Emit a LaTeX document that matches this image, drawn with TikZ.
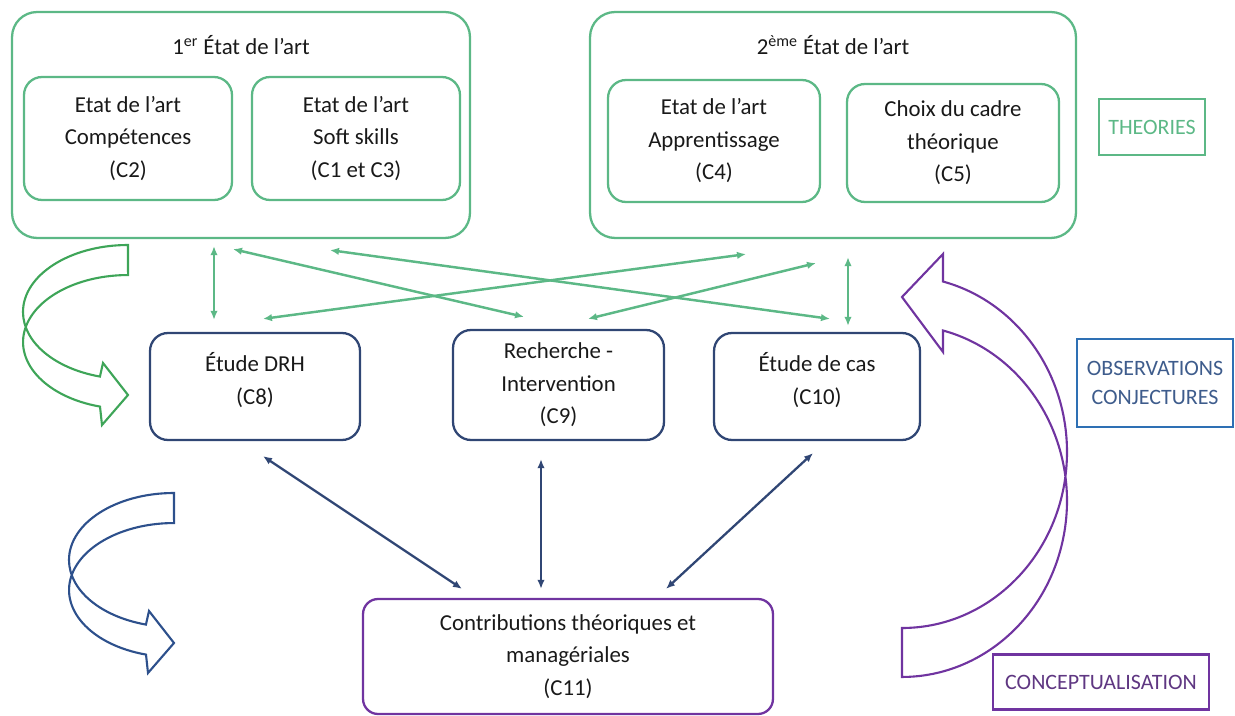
\documentclass[tikz,border=0pt]{standalone}
\usepackage{fontspec}
\setmainfont{Carlito}
\usepackage{tikz}
\usetikzlibrary{arrows.meta, calc}

\definecolor{thgreen}{RGB}{92,184,134}
\definecolor{bendgreen}{RGB}{62,165,88}
\definecolor{navy}{RGB}{48,70,116}
\definecolor{bendblue}{RGB}{45,80,140}
\definecolor{obsblue}{RGB}{46,112,180}
\definecolor{obstext}{RGB}{62,92,140}
\definecolor{purp}{RGB}{112,52,160}
\definecolor{purptext}{RGB}{95,55,130}

% hollow bent arrow, tail top corner at the origin
\tikzset{
  bendarrow/.pic={
    \draw[line width=1.2pt, fill=white] (0,0)
      arc[start angle=-90, end angle=-254.5, x radius=105, y radius=67]
      -- (-25,118) -- (0,150) -- (-26,180) -- (-28,161.6)
      arc[start angle=-254.5, end angle=-90, x radius=105, y radius=67]
      -- cycle;
  }
}

\begin{document}
\begin{tikzpicture}[
    x=0.02cm, y=-0.02cm,
    every node/.style={font=\fontsize{13}{18.5}\selectfont, text=black!90},
    outerbox/.style={rectangle, rounded corners=0.5cm, draw=thgreen, line width=1.3pt, inner sep=0pt},
    innerbox/.style={rectangle, rounded corners=0.36cm, draw=thgreen, line width=1.3pt, align=center, inner sep=0pt},
    fieldbox/.style={rectangle, rounded corners=0.36cm, draw=navy, line width=1.3pt, align=center, inner sep=0pt},
    resultbox/.style={rectangle, rounded corners=0.3cm, draw=purp, line width=1.3pt, align=center, inner sep=0pt},
    tag/.style={rectangle, line width=1.3pt, align=center, inner sep=0pt, font=\fontsize{12.5}{17}\selectfont},
    greenarrow/.style={{Latex[length=1.8mm, width=1.5mm]}-{Latex[length=1.8mm, width=1.5mm]}, line width=1.4pt, draw=thgreen},
    bluearrow/.style={{Latex[length=1.8mm, width=1.5mm]}-{Latex[length=1.8mm, width=1.5mm]}, line width=1.3pt, draw=navy}
]
\useasboundingbox (0,0) rectangle (1235,716);

% first and second state of the art
\node[outerbox, minimum width=9.16cm, minimum height=4.52cm] (art1) at (241,125) {};
\node[outerbox, minimum width=9.72cm, minimum height=4.52cm] (art2) at (833,125) {};
\node (title1) at (241,45) {1\textsuperscript{er} État de l’art};
\node (title2) at (833,45) {2\textsuperscript{ème} État de l’art};

\node[innerbox, minimum width=4.16cm, minimum height=2.46cm] (c2) at (128,138.5) {Etat de l’art\\Compétences\\(C2)};
\node[innerbox, minimum width=4.16cm, minimum height=2.46cm] (c13) at (356,138.5) {Etat de l’art\\Soft skills\\(C1 et C3)};
\node[innerbox, minimum width=4.24cm, minimum height=2.44cm] (c4) at (714,141) {Etat de l’art\\Apprentissage\\(C4)};
\node[innerbox, minimum width=4.24cm, minimum height=2.36cm] (c5) at (953,143) {Choix du cadre\\théorique\\(C5)};

% field studies
\node[fieldbox, minimum width=4.2cm, minimum height=2.14cm] (c8) at (255,386.5) {Étude DRH\\(C8)\\[-0.33cm]};
\node[fieldbox, minimum width=4.22cm, minimum height=2.2cm] (c9) at (558.5,385) {Recherche -\\Intervention\\(C9)};
\node[fieldbox, minimum width=4.12cm, minimum height=2.14cm] (c10) at (817,386.5) {Étude de cas\\(C10)\\[-0.33cm]};

% contributions
\node[resultbox, minimum width=8.2cm, minimum height=2.3cm] (c11) at (568,656.5) {Contributions théoriques et\\managériales\\(C11)};

% side tags
\node[tag, draw=thgreen, text=thgreen, minimum width=2.12cm, minimum height=1.12cm] (theories) at (1152,127) {THEORIES};
\node[tag, draw=obsblue, text=obstext, minimum width=3.12cm, minimum height=1.76cm] (observations) at (1155,383) {OBSERVATIONS\\CONJECTURES};
\node[tag, draw=purp, text=purptext, minimum width=4.32cm, minimum height=1.1cm] (concept) at (1101,682) {CONCEPTUALISATION};

% theory <-> field
\draw[greenarrow] ($(art1.south)+(-27,7)$) -- ($(c8.north)+(-41,-12)$);
\draw[greenarrow] ($(art1.south)+(-8,10)$) -- ($(c9.north)+(-34.5,-12)$);
\draw[greenarrow] ($(art1.south)+(89,11)$) -- ($(c10.north)+(13,-13)$);
\draw[greenarrow] ($(art2.south)+(-87,15)$) -- ($(c8.north)+(8,-13)$);
\draw[greenarrow] ($(art2.south)+(-17,24)$) -- ($(c9.north)+(29.5,-10)$);
\draw[greenarrow] ($(art2.south)+(15,18)$) -- ($(c10.north)+(31,-6)$);

% field <-> contributions
\draw[bluearrow] ($(c8.south)+(8,15)$) -- ($(c11.north)+(-106,-9)$);
\draw[bluearrow] ($(c9.south)+(-17.5,18)$) -- ($(c11.north)+(-27,-9)$);
\draw[bluearrow] ($(c10.south)+(-4,12)$) -- ($(c11.north)+(98,-9)$);

% bent arrows
\pic[draw=bendgreen] at (128,245) {bendarrow};
\pic[draw=bendblue] at (174,493) {bendarrow};
\draw[draw=purp, line width=1.2pt] (902,628)
  arc[start angle=90, end angle=-75.6, x radius=165, y radius=176]
  -- (943,254) -- (902,297) -- (943,352) -- (943,330.5)
  arc[start angle=-75.6, end angle=90, x radius=165, y radius=176]
  -- cycle;

\end{tikzpicture}
\end{document}
